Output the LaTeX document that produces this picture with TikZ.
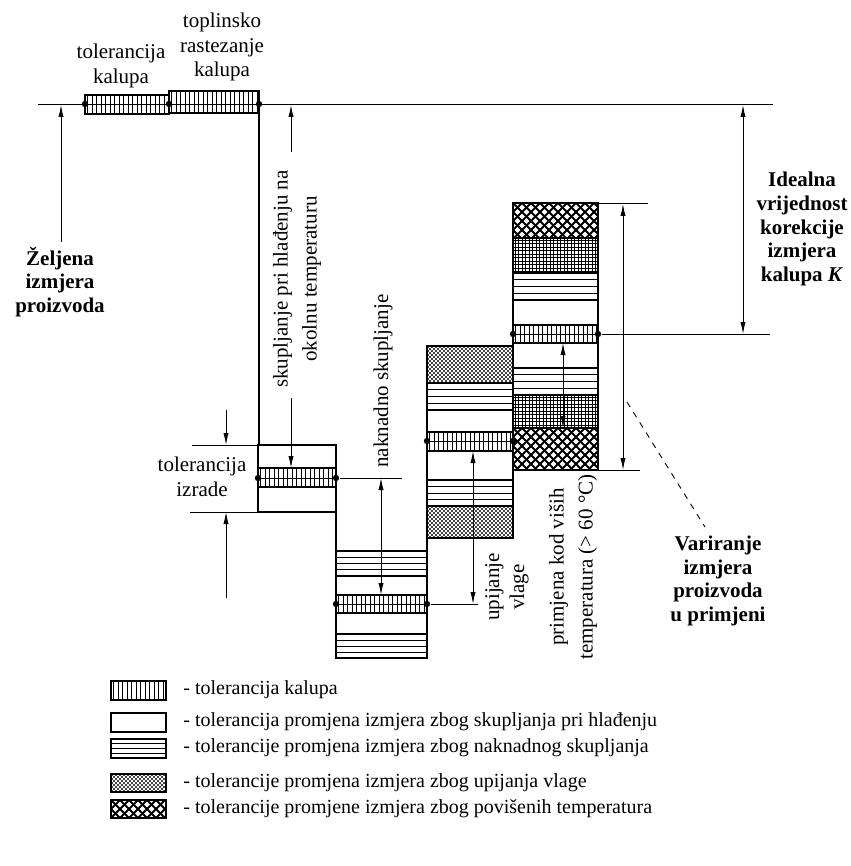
\documentclass[tikz,border=0pt]{standalone}
\usepackage{fontspec}
\setmainfont{Liberation Serif}
\usetikzlibrary{arrows.meta}
\tikzset{
  box/.style={line width=0.9pt},
  thinl/.style={line width=0.45pt},
  hat/.style={line width=0.45pt},
  gridl/.style={line width=0.35pt},
  crossl/.style={line width=0.95pt},
  dimarr/.style={line width=0.45pt,{Latex[length=6pt,width=2.6pt]}-{Latex[length=6pt,width=2.6pt]}},
  onearr/.style={line width=0.45pt,-{Latex[length=6pt,width=2.6pt]}},
  lab/.style={font=\fontsize{10.5}{12.3}\selectfont,align=center,inner sep=0pt},
  rlab/.style={font=\fontsize{10.5}{14.5}\selectfont,align=center,inner sep=0pt,rotate=90},
  blab/.style={font=\fontsize{10.5}{11.9}\selectfont\bfseries,align=center,inner sep=0pt},
  leg/.style={font=\fontsize{10}{12}\selectfont,anchor=west,inner sep=0pt},
  endpt/.style={circle,fill,inner sep=0pt,minimum size=3.2pt},
}
\newcommand\BandTol[4]{%
  \fill[white] (#1,#2) rectangle (#3,#4);
  \begin{scope}
    \clip (#1,#2) rectangle (#3,#4);
    \foreach \xx in {2.5,7,...,100} {\draw[hat] (#1+\xx,#2) -- (#1+\xx,#4);}
  \end{scope}
  \draw[box] (#1,#2) rectangle (#3,#4);
}
\newcommand\BandHl[4]{%
  \foreach \k in {1,2,3} {\draw[hat] (#1,{#2+\k*(#4-#2)/4}) -- (#3,{#2+\k*(#4-#2)/4});}
  \draw[box] (#1,#2) rectangle (#3,#4);
}
\newcommand\BandDots[4]{%
  \begin{scope}
    \clip (#1,#2) rectangle (#3,#4);
    \foreach \i in {0,...,23} {\foreach \j in {0,...,11} {%
      \fill (#1+1+\i*4,#2+1+\j*4) circle (0.6pt);
      \fill (#1+3+\i*4,#2+3+\j*4) circle (0.6pt);}}
  \end{scope}
  \draw[box] (#1,#2) rectangle (#3,#4);
}
\newcommand\BandGrid[4]{%
  \begin{scope}
    \clip (#1,#2) rectangle (#3,#4);
    \foreach \xx in {2,5.5,...,100} {\draw[gridl] (#1+\xx,#2) -- (#1+\xx,#4);}
    \foreach \yy in {2,5.5,...,50} {\draw[gridl] (#1,#2+\yy) -- (#3,#2+\yy);}
  \end{scope}
  \draw[box] (#1,#2) rectangle (#3,#4);
}
\newcommand\BandCross[4]{%
  \begin{scope}
    \clip (#1,#2) rectangle (#3,#4);
    \foreach \t in {-72,-63,...,170} {%
      \draw[crossl] (#1+\t,#2) -- ++(60,60);
      \draw[crossl] (#1+\t,#2) -- ++(-60,60);}
  \end{scope}
  \draw[box] (#1,#2) rectangle (#3,#4);
}
\begin{document}
\begin{tikzpicture}[x=0.5pt,y=-0.5pt]
\useasboundingbox (0,0) rectangle (850,866);

% ---------- top reference line and mould boxes
\draw[thinl] (38,104) -- (773,104);
\BandTol{85}{95}{169}{114}
\BandTol{169}{91}{259}{113}
\draw[hat] (85,104) -- (259,104);
\node[endpt] (d1) at (85,104) {};
\node[endpt] (d2) at (169,104) {};
\node[endpt] (d3) at (259,104) {};

% ---------- staircase connections
\draw[box] (259,113) -- (259,445);
\draw[box] (336,512) -- (336,551);
\draw[box] (427,538) -- (427,551);

% ---------- column 1
\draw[box] (258,445) rectangle (336,512);
\BandTol{258}{468}{336}{487}
\draw[hat] (258,478) -- (336,478);
\node[endpt] (c1l) at (258,478) {};
\node[endpt] (c1r) at (336,478) {};

% ---------- column 2
\BandHl{336}{551}{427}{576}
\draw[box] (336,576) rectangle (427,595);
\BandTol{336}{595}{427}{613}
\draw[box] (336,613) rectangle (427,634);
\BandHl{336}{634}{427}{658}
\draw[hat] (336,604) -- (427,604);
\node[endpt] (c2l) at (336,604) {};
\node[endpt] (c2r) at (427,604) {};

% ---------- column 3
\BandDots{427}{346}{513}{383}
\BandHl{427}{383}{513}{410}
\draw[box] (427,410) rectangle (513,432);
\BandTol{427}{432}{513}{451}
\draw[box] (427,451) rectangle (513,480);
\BandHl{427}{480}{513}{506}
\BandDots{427}{506}{513}{538}
\draw[hat] (427,441) -- (513,441);
\node[endpt] (c3l) at (427,441) {};
\node[endpt] (c3r) at (513,441) {};

% ---------- column 4
\BandCross{513}{203}{598}{238}
\BandGrid{513}{238}{598}{273}
\BandHl{513}{273}{598}{300}
\draw[box] (513,300) rectangle (598,325);
\BandTol{513}{325}{598}{343}
\draw[box] (513,343) rectangle (598,368);
\BandHl{513}{368}{598}{395}
\BandGrid{513}{395}{598}{428}
\BandCross{513}{428}{598}{470}
\draw[hat] (513,334) -- (598,334);
\node[endpt] (c4l) at (513,334) {};
\node[endpt] (c4r) at (598,334) {};

% ---------- top labels
\node[lab] (tk) at (121,66) {tolerancija\\kalupa};
\node[lab] (tr) at (222,47) {toplinsko\\rastezanje\\kalupa};

% ---------- Zeljena izmjera
\coordinate (zb) at (61,242);
\draw[onearr] (zb) -- (61,105);
\node[blab] (zel) at (60,282) {Željena\\izmjera\\proizvoda};

% ---------- skupljanje pri hladenju
\draw[onearr] (291,152) -- (291,105);
\draw[onearr] (291,398) -- (291,468);
\node[rlab] (skup) at (297,279) {skupljanje pri hlađenju na\\okolnu temperaturu};

% ---------- tolerancija izrade
\draw[thinl] (192,445) -- (258,445);
\draw[thinl] (190,512) -- (258,512);
\draw[onearr] (226,410) -- (226,445);
\draw[onearr] (226,598) -- (226,512);
\node[lab] (izr) at (202,477) {tolerancija\\izrade};

% ---------- naknadno skupljanje
\draw[thinl] (c1r) -- (402,478);
\draw[dimarr] (381,478) -- (381,595);
\node[rlab] (nak) at (383,381) {naknadno skupljanje};

% ---------- upijanje vlage
\draw[thinl] (c2r) -- (478,604);
\draw[dimarr] (473,451) -- (473,604);
\node[rlab,font=\fontsize{10.5}{12.5}\selectfont] (upi) at (507,587) {upijanje\\vlage};

% ---------- primjena kod visih temperatura
\draw[dimarr] (563,343) -- (563,428);
\node[rlab] (prim) at (573,567) {primjena kod viših\\temperatura (> 60 °C)};

% ---------- variranje
\draw[thinl] (598,203) -- (648,203);
\draw[thinl] (598,470) -- (640,470);
\draw[dimarr] (623,204) -- (623,470);
\draw[thinl,dashed] (627,402) -- (705,527);
\node[blab] (var) at (718,581) {Variranje\\izmjera\\proizvoda\\u primjeni};

% ---------- idealna vrijednost
\draw[thinl] (c4r) -- (770,334);
\draw[dimarr] (743,105) -- (743,334);
\node[blab] (ide) at (802,229) {Idealna\\vrijednost\\korekcije\\izmjera\\kalupa \textit{K}};

% ---------- legend
\BandTol{111}{681}{166}{700}
\draw[box] (111,713) rectangle (166,732);
\BandHl{111}{739}{166}{758}
\BandDots{111}{774}{166}{792}
\BandCross{111}{800}{166}{818}
\node[leg] (l1) at (183,690) {- tolerancija kalupa};
\node[leg] (l2) at (183,722) {- tolerancija promjena izmjera zbog skupljanja pri hlađenju};
\node[leg] (l3) at (183,748) {- tolerancije promjena izmjera zbog naknadnog skupljanja};
\node[leg] (l4) at (183,783) {- tolerancije promjena izmjera zbog upijanja vlage};
\node[leg] (l5) at (183,809) {- tolerancije promjene izmjera zbog povišenih temperatura};
\end{tikzpicture}
\end{document}
